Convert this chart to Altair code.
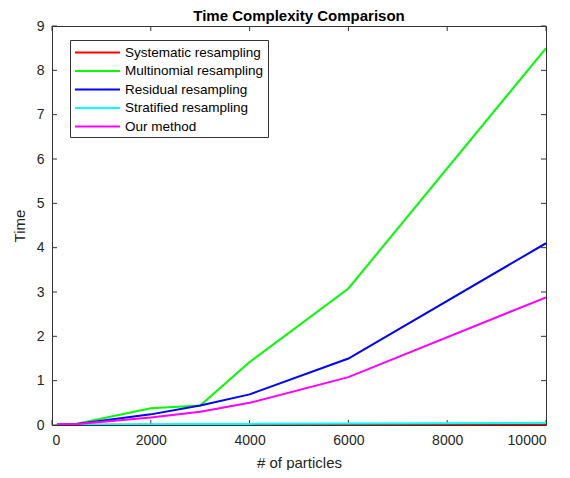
import altair as alt
import pandas as pd

particles = [100, 500, 2000, 3000, 4000, 6000, 10000]
systematic = [0.002, 0.003, 0.004, 0.005, 0.006, 0.008, 0.010]
multinomial = [0.01, 0.03, 0.38, 0.44, 1.42, 3.08, 8.50]
residual = [0.01, 0.02, 0.24, 0.44, 0.69, 1.50, 4.10]
stratified = [0.005, 0.008, 0.015, 0.02, 0.025, 0.035, 0.05]
ours = [0.01, 0.02, 0.17, 0.30, 0.50, 1.08, 2.88]

methods = ["Systematic resampling", "Multinomial resampling", "Residual resampling",
           "Stratified resampling", "Our method"]
colors = ["#FF0000", "#00FF00", "#0000FF", "#00FFFF", "#FF00FF"]
series = [systematic, multinomial, residual, stratified, ours]

x_ticks = [0, 2000, 4000, 6000, 8000, 10000]
y_ticks = list(range(10))

rows = []
for m, vals in zip(methods, series):
    for xv, yv in zip(particles, vals):
        rows.append({"particles": xv, "time": yv, "method": m})
df = pd.DataFrame(rows)

W, H = 494, 399
FONT = "Liberation Sans"
TXT = "#262626"

xs = alt.Scale(domain=[0, 10000], nice=False, zero=False)
ys = alt.Scale(domain=[0, 9], nice=False)

lines = alt.Chart(df).mark_line(strokeWidth=2, clip=True).encode(
    x=alt.X("particles:Q", scale=xs,
            axis=alt.Axis(values=x_ticks, format="d", title="# of particles", ticks=False,
                          domain=False, grid=False, labelPadding=8, titlePadding=8)),
    y=alt.Y("time:Q", scale=ys,
            axis=alt.Axis(values=y_ticks, format="d", title="Time", ticks=False, domain=False,
                          grid=False, labelPadding=8, titlePadding=9)),
    color=alt.Color("method:N", scale=alt.Scale(domain=methods, range=colors),
                    sort=methods,
                    legend=alt.Legend(title=None, orient="none", legendX=18, legendY=14,
                                      symbolType="M-3,0H3", symbolSize=225,
                                      symbolOffset=15,
                                      symbolStrokeWidth=2, labelFontSize=13.5,
                                      labelFont=FONT, labelColor="#000000",
                                      strokeColor="#333333", fillColor="white",
                                      padding=4, rowPadding=3.5, labelOffset=19,
                                      labelLimit=400)),
)

xt = pd.DataFrame({"v": x_ticks})
yt = pd.DataFrame({"v": y_ticks})
tick_color = "#333333"
bx = alt.Chart(xt).mark_rule(color=tick_color, strokeWidth=1).encode(
    x=alt.X("v:Q", scale=xs), y=alt.value(H), y2=alt.value(H - 5))
tx = alt.Chart(xt).mark_rule(color=tick_color, strokeWidth=1).encode(
    x=alt.X("v:Q", scale=xs), y=alt.value(0), y2=alt.value(5))
ly = alt.Chart(yt).mark_rule(color=tick_color, strokeWidth=1).encode(
    y=alt.Y("v:Q", scale=ys), x=alt.value(0), x2=alt.value(5))
ry = alt.Chart(yt).mark_rule(color=tick_color, strokeWidth=1).encode(
    y=alt.Y("v:Q", scale=ys), x=alt.value(W), x2=alt.value(W - 5))

chart = alt.layer(bx, tx, ly, ry, lines).properties(
    width=W, height=H,
    background="white",
    title=alt.TitleParams("Time Complexity Comparison", font=FONT, fontSize=15,
                          fontWeight="bold", color="#000000", offset=1, dy=6),
    autosize=alt.AutoSizeParams(type="none"),
    padding={"left": 44, "top": 18, "right": 16, "bottom": 45},
).configure_view(stroke="#333333", strokeWidth=1).configure_axis(
    labelFont=FONT, titleFont=FONT, labelFontSize=14, titleFontSize=15,
    labelColor=TXT, titleColor=TXT, titleFontWeight="normal"
)

chart.save("out.html", embed_options={"renderer": "svg", "actions": False})
